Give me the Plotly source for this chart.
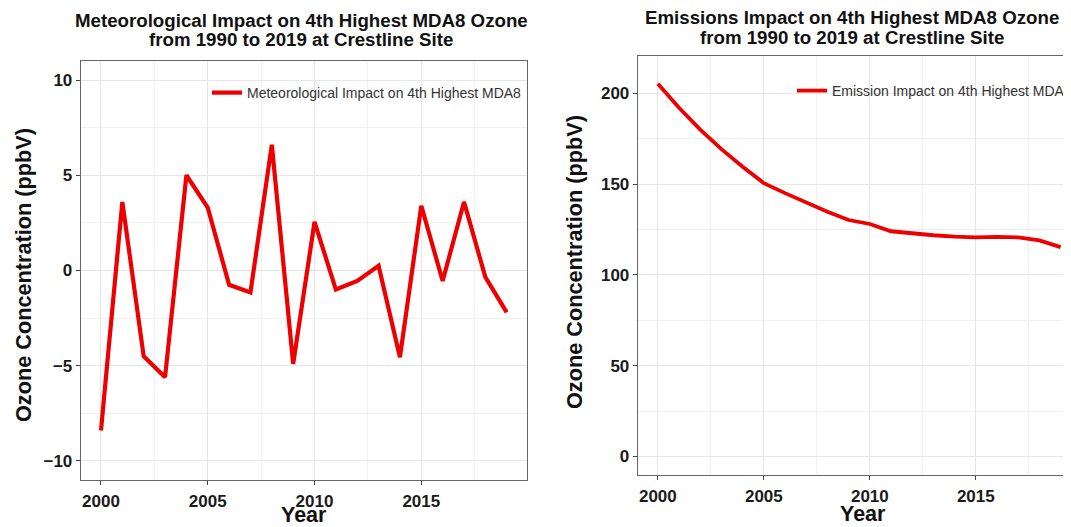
"""
Meteorological vs. emissions impact on 4th highest MDA8 ozone, Crestline site.
"""

import plotly.graph_objects as go

years = list(range(2000, 2020))

# meteorological contribution (ppbV)
met_impact = [-8.4, 3.6, -4.5, -5.6, 5.0, 3.3, -0.75, -1.15, 6.6, -4.9,
              2.55, -1.0, -0.55, 0.25, -4.55, 3.4, -0.55, 3.6, -0.35, -2.2]

# emission-driven ozone (ppbV)
emis_impact = [205.2, 192.0, 180.0, 169.2, 159.5, 150.5, 145.0, 139.8, 134.8, 130.2,
               128.0, 124.0, 122.8, 121.8, 121.0, 120.6, 120.9, 120.6, 119.0, 115.3]

met_title = ["Meteorological Impact on 4th Highest MDA8 Ozone",
             "from 1990 to 2019 at Crestline Site"]
emis_title = ["Emissions Impact on 4th Highest MDA8 Ozone",
              "from 1990 to 2019 at Crestline Site"]
met_label = "Meteorological Impact on 4th Highest MDA8"
emis_label = "Emission Impact on 4th Highest MDA8 Ozone"
y_title = "Ozone Concentration (ppbV)"
x_title = "Year"

W, H = 1071, 527
PAGE_PAD = 8  # default body margin of the html page
FONT = "Arial, Liberation Sans, sans-serif"
RED = "#EE0000"


# positions are given in screenshot pixels and turned into paper fractions
def px_x(v):
    return (v - PAGE_PAD) / W


def px_y(v):
    return 1 - (v - PAGE_PAD) / H


fig = go.Figure()

fig.add_trace(go.Scatter(
    x=years, y=met_impact, mode="lines", name=met_label,
    line=dict(color=RED, width=4.2), xaxis="x", yaxis="y", legend="legend",
))
fig.add_trace(go.Scatter(
    x=years, y=emis_impact, mode="lines", name=emis_label,
    line=dict(color=RED, width=3.8), xaxis="x2", yaxis="y2", legend="legend2",
))

tickfont = dict(family=FONT, size=17, color="#1a1a1a", weight="bold")


def xaxis_style(domain, rng):
    return dict(
        domain=domain, range=rng, tickmode="array",
        tickvals=[2000, 2005, 2010, 2015], ticks="outside", ticklen=4,
        tickcolor="#444", tickfont=tickfont, ticklabelstandoff=2,
        showgrid=True, gridcolor="#E6E6E6", gridwidth=1,
        minor=dict(tickvals=[2002.5, 2007.5, 2012.5, 2017.5],
                   showgrid=True, gridcolor="#F0F0F0", gridwidth=0.8),
        showline=True, linecolor="#666", linewidth=1, mirror=True, zeroline=False,
        automargin=False,
    )


def yaxis_style(domain, rng, tickvals, minorvals, anchor):
    return dict(
        domain=domain, range=rng, tickmode="array", tickvals=tickvals,
        ticks="outside", ticklen=4, tickcolor="#444", tickfont=tickfont,
        showgrid=True, gridcolor="#E6E6E6", gridwidth=1,
        minor=dict(tickvals=minorvals, showgrid=True, gridcolor="#F0F0F0", gridwidth=0.8),
        showline=True, linecolor="#666", linewidth=1, mirror=True, zeroline=False,
        anchor=anchor, automargin=False,
    )


left_x = [px_x(80.7), px_x(527)]
right_x = [px_x(637.7), px_x(1071)]
left_y = [px_y(480), px_y(61)]
right_y = [px_y(475), px_y(56)]

legend_font = dict(family=FONT, size=14, color="#333")


def text_note(text, x, y, size, angle=0):
    return dict(text=text, x=px_x(x), y=px_y(y), xref="paper", yref="paper",
                showarrow=False, xanchor="center", yanchor="middle", textangle=angle,
                font=dict(family=FONT, size=size, color="#111", weight="bold"))


annotations = [
    text_note(met_title[0], 301, 20, 18.7),
    text_note(met_title[1], 301, 40, 18.7),
    text_note(emis_title[0], 852, 17, 18.7),
    text_note(emis_title[1], 852, 37, 18.7),
    text_note(y_title, 23, 275, 21.7, -90),
    text_note(y_title, 575, 262, 21.7, -90),
    text_note(x_title, 304, 515, 21.5),
    text_note(x_title, 863, 514, 21.5),
]

fig.update_layout(
    width=W, height=H,
    margin=dict(l=0, r=0, t=0, b=0),
    paper_bgcolor="white", plot_bgcolor="white",
    xaxis=dict(**xaxis_style(left_x, [1999.05, 2019.95]), anchor="y"),
    yaxis=yaxis_style(left_y, [-11, 11], [-10, -5, 0, 5, 10], [-7.5, -2.5, 2.5, 7.5], "x"),
    xaxis2=dict(**xaxis_style(right_x, [1999.05, 2019.49]), anchor="y2"),
    yaxis2=yaxis_style(right_y, [-10.2, 220.5], [0, 50, 100, 150, 200],
                       [25, 75, 125, 175], "x2"),
    legend=dict(x=px_x(207), xanchor="left", y=px_y(93), yanchor="middle",
                bgcolor="rgba(0,0,0,0)", font=legend_font, itemwidth=30),
    # right legend is cut at the figure edge, as in the original
    legend2=dict(x=px_x(792), xanchor="left", y=px_y(91), yanchor="middle",
                 orientation="h", entrywidth=233, entrywidthmode="pixels",
                 bgcolor="rgba(0,0,0,0)", font=legend_font, itemwidth=30),
    showlegend=True,
    annotations=annotations,
)

fig.write_html("out.html")
